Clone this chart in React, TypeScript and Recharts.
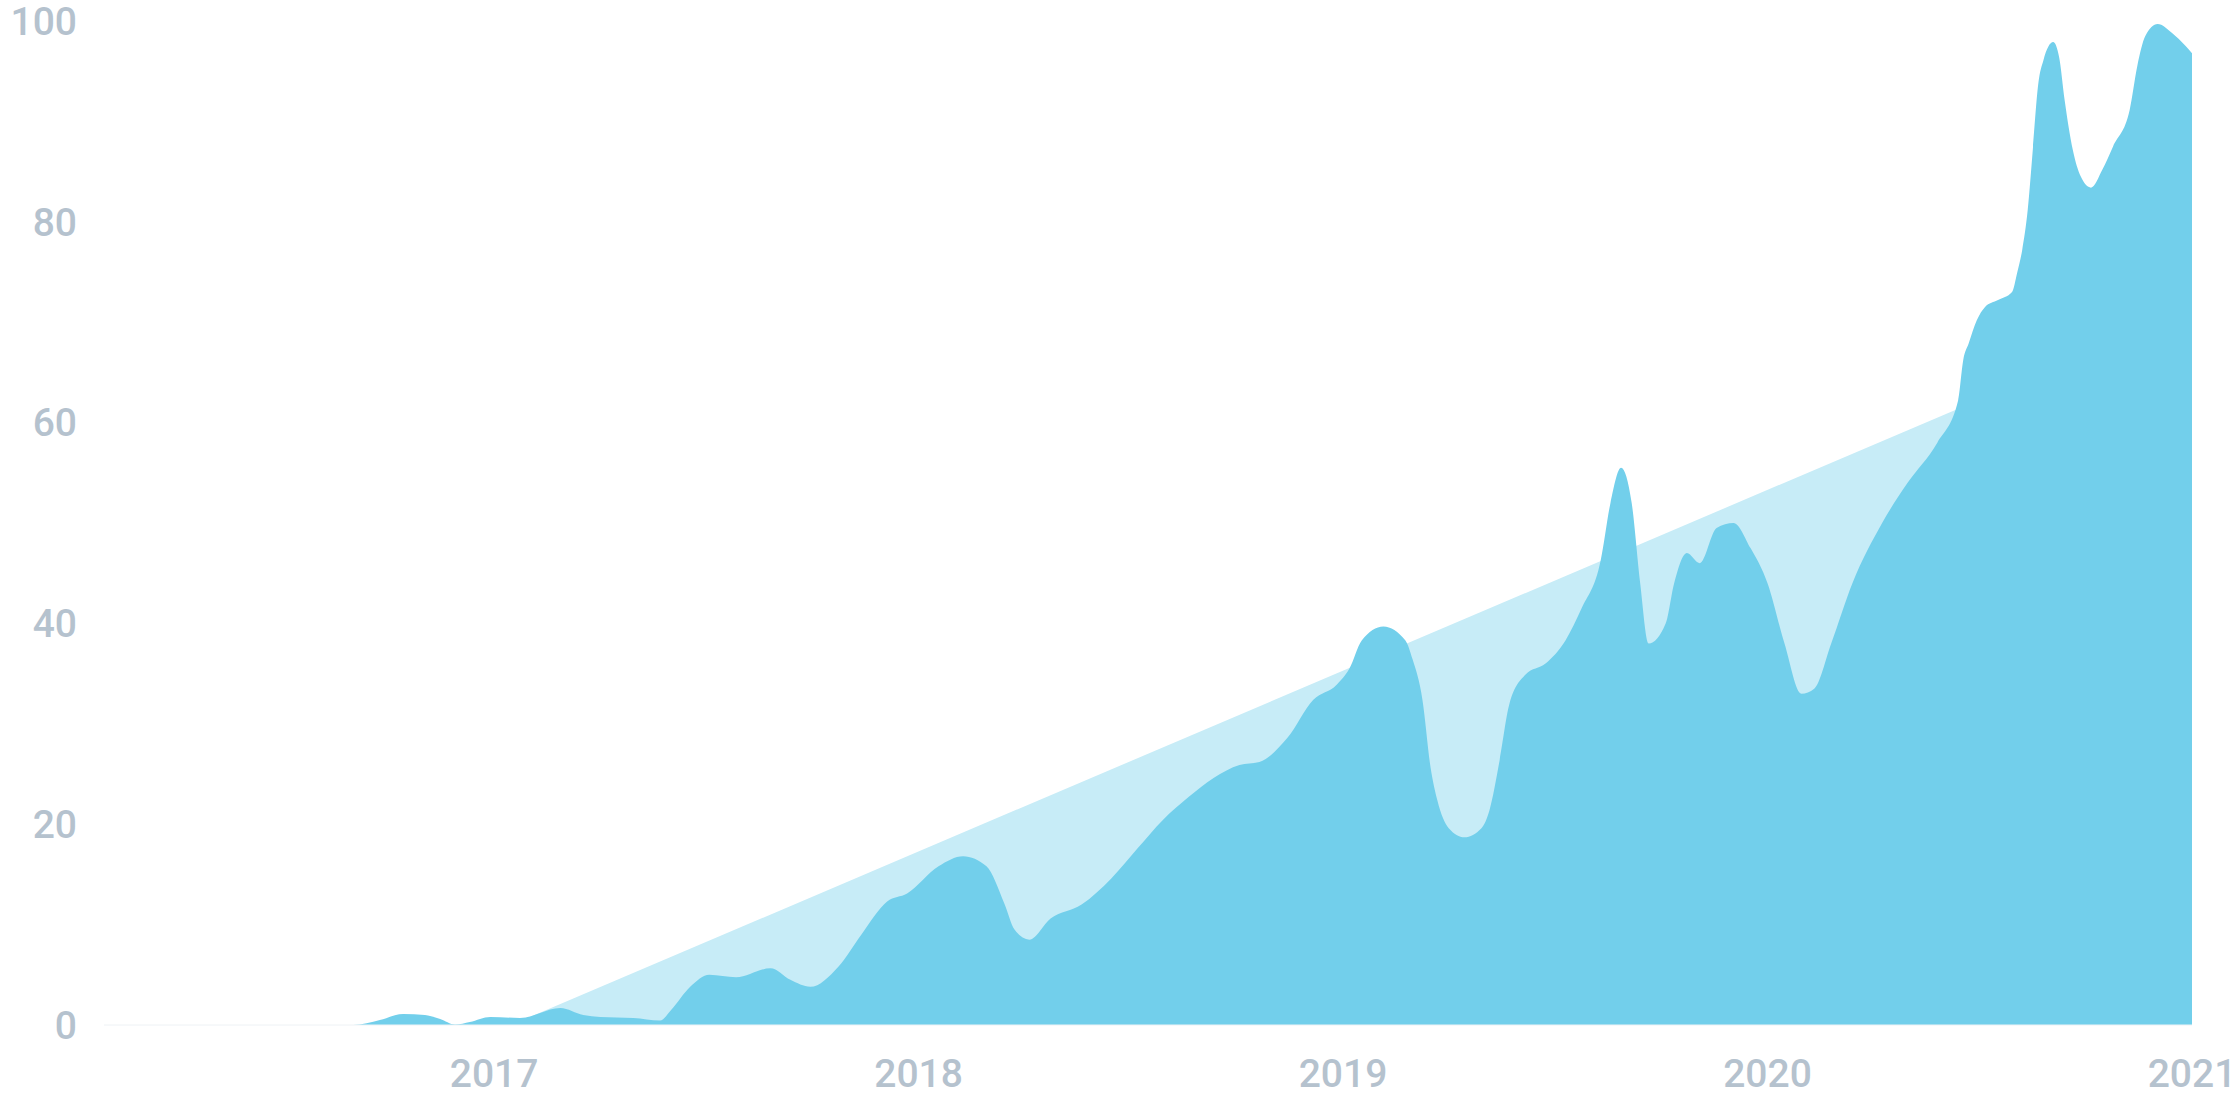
import React from 'react';
import { ComposedChart, Area, XAxis, YAxis } from 'recharts';

// decimal years along the x axis, and the measured values at each of them
const dates = [
  2016.081, 2016.668, 2016.731, 2016.786, 2016.837, 2016.873, 2016.908, 2016.943, 2016.991,
  2017.061, 2017.156, 2017.21, 2017.25, 2017.328, 2017.391, 2017.417, 2017.462, 2017.507,
  2017.57, 2017.651, 2017.698, 2017.745, 2017.811, 2017.865, 2017.926, 2017.973, 2018.047,
  2018.105, 2018.16, 2018.202, 2018.226, 2018.261, 2018.311, 2018.384, 2018.454, 2018.516,
  2018.575, 2018.636, 2018.695, 2018.756, 2018.803, 2018.869, 2018.93, 2018.985, 2019.015,
  2019.044, 2019.095, 2019.147, 2019.164, 2019.187, 2019.206, 2019.222, 2019.249, 2019.286,
  2019.326, 2019.345, 2019.369, 2019.392, 2019.43, 2019.477, 2019.524, 2019.562, 2019.607,
  2019.63, 2019.655, 2019.68, 2019.7, 2019.72, 2019.76, 2019.78, 2019.81, 2019.84, 2019.88,
  2019.92, 2019.96, 2020.0, 2020.04, 2020.08, 2020.11, 2020.15, 2020.2, 2020.27, 2020.33,
  2020.4, 2020.449, 2020.461, 2020.474, 2020.493, 2020.512, 2020.543, 2020.576, 2020.588,
  2020.6, 2020.613, 2020.625, 2020.638, 2020.65, 2020.673, 2020.687, 2020.7, 2020.719,
  2020.738, 2020.762, 2020.789, 2020.814, 2020.853, 2020.871, 2020.89, 2020.919, 2020.953,
  2020.985, 2021.0,
];

const actual = [
  0, 0, 0.5, 1.1, 1.0, 0.6, 0.05, 0.3, 0.8,
  0.7, 1.7, 1.0, 0.8, 0.7, 0.45, 1.5, 3.8, 5.0,
  4.75, 5.65, 4.5, 3.8, 5.8, 9.0, 12.3, 13.1, 15.8,
  16.8, 15.8, 12.1, 9.5, 8.5, 10.6, 12.0, 14.6, 17.6,
  20.4, 22.7, 24.6, 25.9, 26.2, 28.6, 32.4, 33.9, 35.5,
  38.3, 39.7, 38.3, 36.4, 32.4, 25.7, 22.4, 19.6, 18.7,
  19.6, 21.4, 26.4, 32.0, 34.9, 36.0, 38.3, 41.5, 46.3,
  52, 55.5, 52, 44, 38, 40, 44, 47, 46, 49.5,
  50, 47.5, 44, 38, 33, 33.5, 38, 44, 50, 54,
  58, 62.2, 66.2, 67.9, 70.2, 71.5, 72.2, 73.0, 74.9,
  77.2, 81.2, 87.2, 93.8, 96.1, 97.9, 96.4, 92.1, 87.2,
  84.5, 83.4, 85.2, 87.5, 91.1, 95.5, 98.5, 99.7, 98.8,
  97.5, 96.8,
];

// straight target ramp
const targetDates = [2017.04, 2021.0];
const targetValues = [0, 71.3];

const yearTicks = [2017, 2018, 2019, 2020, 2021];
const valueTicks = [0, 20, 40, 60, 80, 100];

type Row = { t: number; actual?: number; target?: number };

function buildRows(): Row[] {
  const byDate = new Map<number, Row>();
  dates.forEach((t, i) => byDate.set(t, { t, actual: actual[i] }));
  targetDates.forEach((t, i) => {
    const row = byDate.get(t) ?? { t };
    row.target = targetValues[i];
    byDate.set(t, row);
  });
  return Array.from(byDate.values()).sort((a, b) => a.t - b.t);
}

const rows = buildRows();

const tickStyle = {
  fill: '#b5c2ce',
  fontSize: 39,
  fontFamily: 'Roboto, sans-serif',
  fontWeight: 500,
};

export default function App() {
  return (
    <div style={{ width: 2240, height: 1120, background: '#fff' }}>
      <style>{'body { margin: 0; }'}</style>
      <ComposedChart
        width={2240}
        height={1120}
        data={rows}
        margin={{ top: 21, right: 48, bottom: 35, left: 0 }}
      >
        <XAxis
          dataKey="t"
          type="number"
          domain={[2016.081, 2021]}
          ticks={yearTicks}
          interval={0}
          tickFormatter={(v: number) => String(Math.round(v))}
          tick={tickStyle}
          tickLine={false}
          tickSize={0}
          tickMargin={34}
          height={60}
          axisLine={{ stroke: '#eef2f5', strokeWidth: 1 }}
          allowDataOverflow
        />
        <YAxis
          type="number"
          domain={[0, 100]}
          ticks={valueTicks}
          interval={0}
          tick={tickStyle}
          tickLine={false}
          tickSize={0}
          tickMargin={27}
          axisLine={false}
          width={104}
        />
        <Area
          dataKey="target"
          type="linear"
          connectNulls
          fill="#c7ecf7"
          fillOpacity={1}
          stroke="none"
          isAnimationActive={false}
        />
        <Area
          dataKey="actual"
          type="monotone"
          connectNulls
          fill="#72cfeb"
          fillOpacity={1}
          stroke="none"
          isAnimationActive={false}
        />
      </ComposedChart>
    </div>
  );
}
